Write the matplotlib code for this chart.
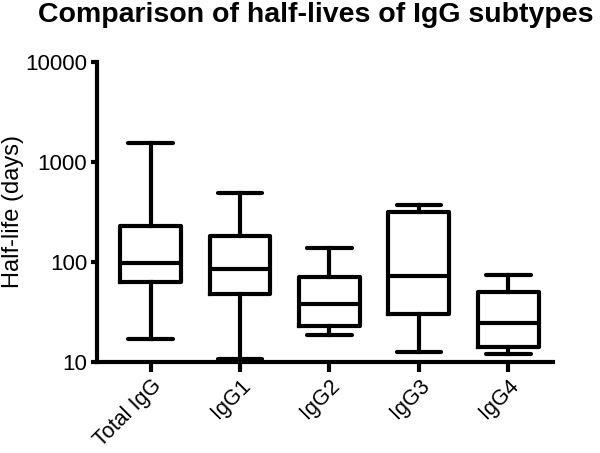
import matplotlib
matplotlib.use("Agg")
import matplotlib.pyplot as plt

plt.rcParams['font.family'] = ['Liberation Sans', 'DejaVu Sans']

# data (days)
labels = ["Total IgG", "IgG1", "IgG2", "IgG3", "IgG4"]
whislo = [16.9, 10.6, 18.6, 12.4, 12.0]
q1 = [62, 47.5, 22.9, 30, 14.1]
med = [96, 84, 37.8, 72.4, 24.5]
q3 = [229, 181, 71, 316, 49.4]
whishi = [1550, 490, 136, 369, 73.6]

stats = []
for i in range(len(labels)):
    stats.append(dict(label=labels[i], whislo=whislo[i], q1=q1[i], med=med[i],
                      q3=q3[i], whishi=whishi[i], fliers=[]))

fig = plt.figure(figsize=(6, 4.53), dpi=100)
ax = fig.add_axes([97/600, 1 - 361.7/453, 456/600, 300/453])

lw = 3
ax.bxp(stats, positions=range(len(labels)), widths=0.68, capwidths=0.5,
       showfliers=False,
       boxprops=dict(linewidth=lw, color='black'),
       medianprops=dict(linewidth=lw, color='black'),
       whiskerprops=dict(linewidth=lw, color='black'),
       capprops=dict(linewidth=lw, color='black', solid_capstyle='round'))

ax.set_yscale('log')
ax.set_ylim(10, 10000)
ax.set_xlim(-0.6, 4.5)
ax.set_yticks([10, 100, 1000, 10000])
ax.set_yticklabels(["10", "100", "1000", "10000"])
ax.minorticks_off()
ax.set_xticks(range(len(labels)))
ax.set_xticklabels(labels, rotation=45, ha='right', rotation_mode='anchor')

for s in ['top', 'right']:
    ax.spines[s].set_visible(False)
for s in ['left', 'bottom']:
    ax.spines[s].set_linewidth(lw)
ax.tick_params(axis='y', width=lw, length=4, labelsize=16, pad=3)
ax.tick_params(axis='x', width=lw, length=7, labelsize=15.5, pad=3)

ax.set_ylabel("Half-life (days)", fontsize=17)
ax.yaxis.set_label_coords((24 - 97) / 456, 0.5)

fig.text(316/600, 1 - 22/453, "Comparison of half-lives of IgG subtypes",
         fontsize=20.5, fontweight='bold', ha='center', va='baseline')

fig.savefig("out.png", dpi=100)
